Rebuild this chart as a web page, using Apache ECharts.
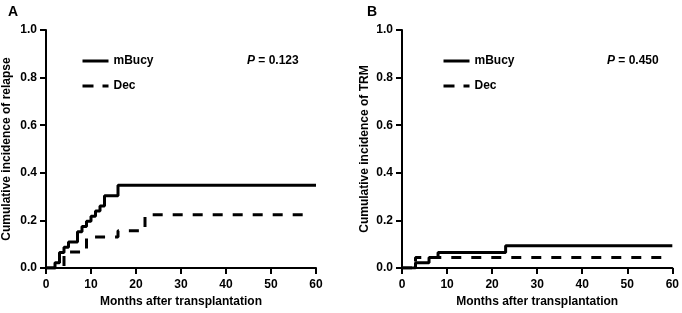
<!DOCTYPE html>
<html>
<head>
<meta charset="utf-8">
<script src="https://cdn.jsdelivr.net/npm/echarts@6/dist/echarts.min.js"></script>
<style>
  html, body { margin: 0; padding: 0; background: #fff; }
  #chart { width: 682px; height: 313px; }
</style>
</head>
<body>
<div id="chart"></div>
<script>
// months after transplantation, where each curve steps up
const relapseMonthsMBucy = [0, 2, 3, 4, 5, 7, 8, 9, 10, 11, 12, 13, 16, 60];
const relapseMBucy = [0, 0.022, 0.065, 0.087, 0.109, 0.152, 0.174, 0.196, 0.217, 0.239, 0.261, 0.304, 0.348, 0.348];
const relapseMonthsDec = [0, 4, 9, 16, 22, 58];
const relapseDec = [0, 0.067, 0.13, 0.156, 0.224, 0.224];

const trmMonthsMBucy = [0, 3, 6, 8, 23, 60];
const trmMBucy = [0, 0.022, 0.045, 0.066, 0.094, 0.094];
const trmMonthsDec = [0, 3, 59];
const trmDec = [0, 0.045, 0.045];

const xTicks = [0, 10, 20, 30, 40, 50, 60];
const yTicks = [0, 0.2, 0.4, 0.6, 0.8, 1.0];
const groups = ['mBucy', 'Dec'];
const pValues = ['0.123', '0.450'];

const font = 'Liberation Sans';
const dash = [10, 10];

function pairs (xs, ys) {
  return xs.map((x, i) => [x, ys[i]]);
}

function xAxis (gridIndex, nameGap) {
  return {
    type: 'value',
    gridIndex: gridIndex,
    min: xTicks[0],
    max: xTicks[xTicks.length - 1],
    interval: 10,
    name: 'Months after transplantation',
    nameLocation: 'middle',
    nameGap: nameGap,
    nameTextStyle: { fontFamily: font, fontWeight: 'bold', fontSize: 12, color: '#000' },
    axisLine: { lineStyle: { color: '#000', width: 2 } },
    axisTick: { length: 6, lineStyle: { color: '#000', width: 2 } },
    axisLabel: { margin: 11, fontFamily: font, fontWeight: 'bold', fontSize: 12, color: '#000' },
    splitLine: { show: false }
  };
}

function yAxis (gridIndex, name, nameGap) {
  return {
    type: 'value',
    gridIndex: gridIndex,
    min: yTicks[0],
    max: yTicks[yTicks.length - 1],
    interval: 0.2,
    name: name,
    nameLocation: 'middle',
    nameGap: nameGap,
    nameTextStyle: { fontFamily: font, fontWeight: 'bold', fontSize: 12, color: '#000' },
    axisLine: { show: true, lineStyle: { color: '#000', width: 2 } },
    axisTick: { show: true, length: 6, lineStyle: { color: '#000', width: 2 } },
    axisLabel: {
      margin: 9, fontFamily: font, fontWeight: 'bold', fontSize: 12, color: '#000',
      formatter: (v) => v.toFixed(1)
    },
    splitLine: { show: false }
  };
}

function curve (name, idx, data, dashed) {
  return {
    name: name,
    type: 'line',
    step: 'end',
    xAxisIndex: idx,
    yAxisIndex: idx,
    data: data,
    symbol: 'none',
    showSymbol: false,
    silent: true,
    lineStyle: { color: '#000', width: 3, type: dashed ? dash : 'solid' },
    itemStyle: { color: '#000' }
  };
}

function legend (left) {
  return {
    left: left,
    top: 50,
    orient: 'vertical',
    data: [
      { name: groups[0], lineStyle: { color: '#000', width: 3, type: 'solid' } },
      { name: groups[1], lineStyle: { color: '#000', width: 3, type: [11, 9] } }
    ],
    itemWidth: 26,
    itemHeight: 14,
    itemGap: 13,
    selectedMode: false,
    itemStyle: { color: 'transparent', borderColor: 'transparent', borderWidth: 0, opacity: 0 },
    textStyle: { fontFamily: font, fontWeight: 'bold', fontSize: 12, color: '#000' }
  };
}

function pText (left, value) {
  return {
    left: left,
    top: 50,
    text: '{p|P} = ' + value,
    textStyle: {
      fontFamily: font, fontWeight: 'bold', fontSize: 12, color: '#000',
      rich: { p: { fontFamily: font, fontWeight: 'bold', fontStyle: 'italic', fontSize: 12, color: '#000' } }
    }
  };
}

const chart = echarts.init(document.getElementById('chart'));
chart.setOption({
  animation: false,
  backgroundColor: '#fff',
  title: [
    { text: 'A', left: 3, top: 0, textStyle: { fontFamily: font, fontWeight: 'bold', fontSize: 14, color: '#000' } },
    { text: 'B', left: 362, top: 0, textStyle: { fontFamily: font, fontWeight: 'bold', fontSize: 14, color: '#000' } },
    pText(242, pValues[0]),
    pText(602, pValues[1])
  ],
  legend: [legend(76), legend(437)],
  grid: [
    { left: 41, right: 366, top: 30, bottom: 45 },
    { left: 402, right: 7, top: 30, bottom: 41 }
  ],
  xAxis: [xAxis(0, 28), xAxis(1, 25)],
  yAxis: [yAxis(0, 'Cumulative incidence of relapse', 33), yAxis(1, 'Cumulative incidence of TRM', 31)],
  series: [
    curve('mBucy', 0, pairs(relapseMonthsMBucy, relapseMBucy), false),
    curve('Dec', 0, pairs(relapseMonthsDec, relapseDec), true),
    curve('mBucy', 1, pairs(trmMonthsMBucy, trmMBucy), false),
    curve('Dec', 1, pairs(trmMonthsDec, trmDec), true)
  ]
});
</script>
</body>
</html>
